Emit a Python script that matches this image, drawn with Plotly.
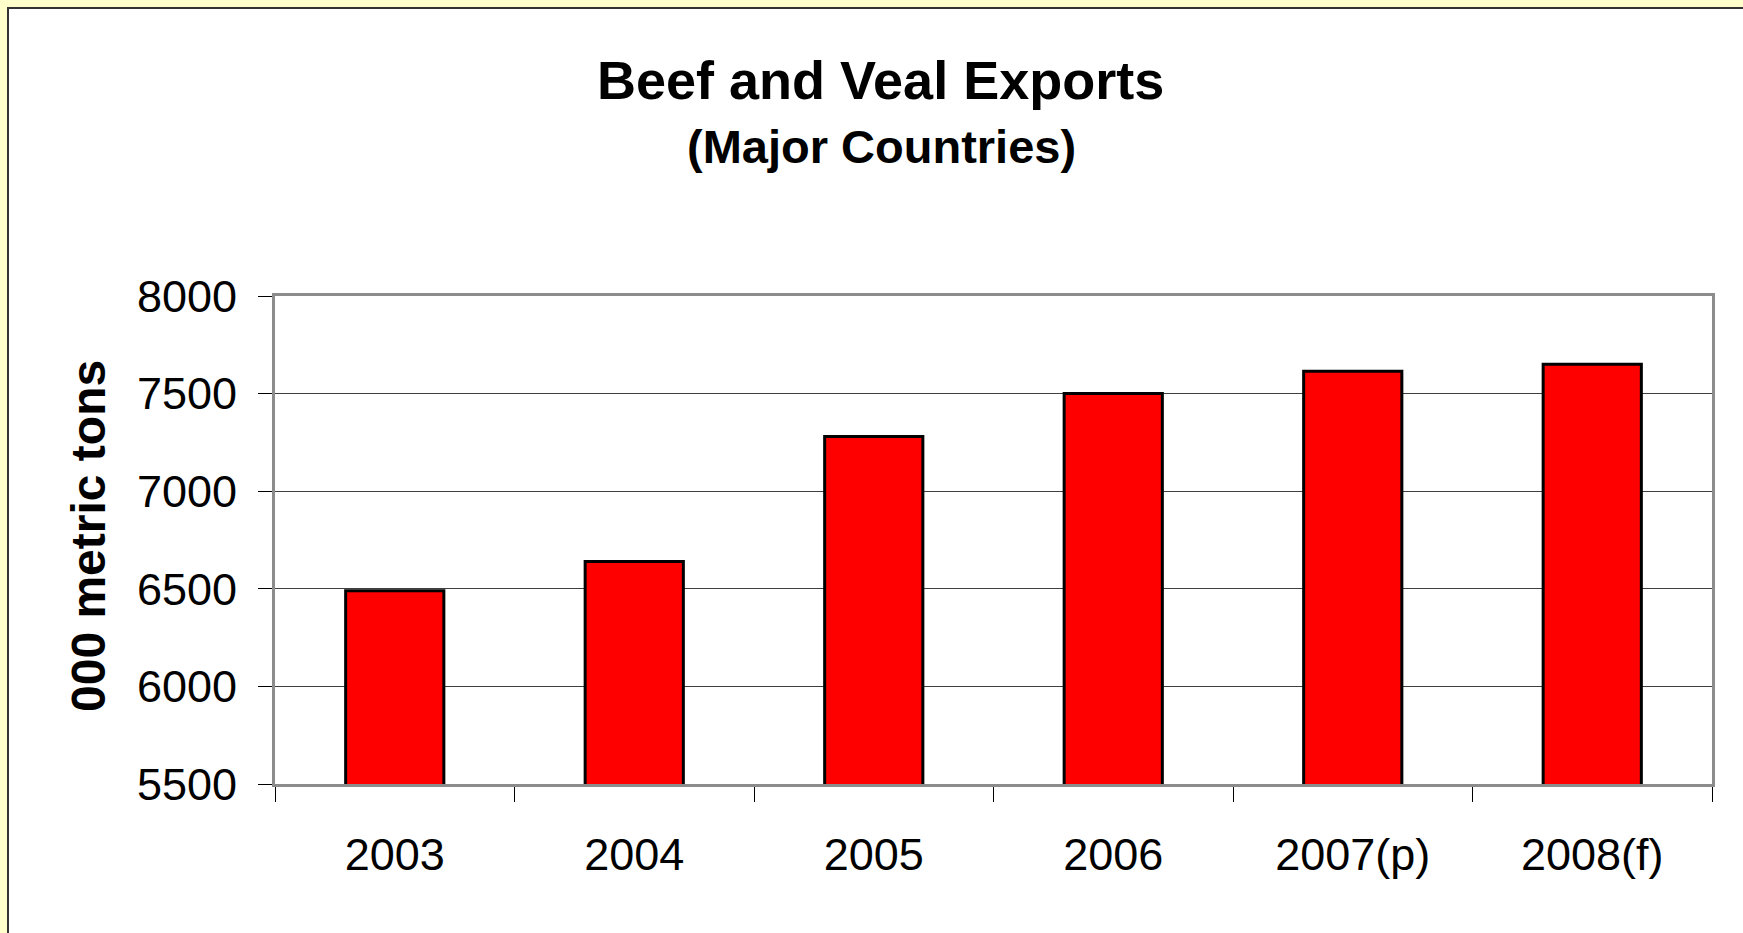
import plotly.graph_objects as go

# Beef and veal exports, major countries (thousand metric tons)
years = ["2003", "2004", "2005", "2006", "2007(p)", "2008(f)"]
exports = [6490, 6640, 7280, 7500, 7615, 7650]
y_ticks = [5500, 6000, 6500, 7000, 7500, 8000]

W, H = 1743, 933
L, R, T, B = 275, 31, 296, 149
plot_w = W - L - R
plot_h = H - T - B


def px_x(p):
    return (p - L) / plot_w


def px_y(p):
    return (H - B - p) / plot_h


FONT = "Liberation Sans, Arial, sans-serif"

fig = go.Figure(
    go.Bar(
        x=years,
        y=exports,
        marker=dict(color="#ff0000", line=dict(color="#000000", width=3)),
    )
)

fig.update_layout(
    width=W,
    height=H,
    margin=dict(l=L, r=R, t=T, b=B, pad=0),
    paper_bgcolor="#ffffcc",
    plot_bgcolor="#ffffff",
    bargap=0.59,
    showlegend=False,
    font=dict(family=FONT, color="#000000"),
    xaxis=dict(
        type="category",
        range=[-0.5, 5.5],
        tickson="boundaries",
        ticks="outside",
        ticklen=15,
        tickwidth=1,
        tickcolor="#000000",
        showline=True,
        linewidth=3,
        linecolor="#8c8c8c",
        mirror=True,
        showgrid=False,
        tickfont=dict(family=FONT, size=45, color="#000000"),
        ticklabelstandoff=29,
    ),
    yaxis=dict(
        range=[5500, 8000],
        tickvals=y_ticks,
        ticktext=[str(v) for v in y_ticks],
        ticks="outside",
        ticklen=14,
        tickwidth=1,
        tickcolor="#000000",
        showline=True,
        linewidth=3,
        linecolor="#8c8c8c",
        mirror=True,
        showgrid=True,
        gridcolor="#404040",
        gridwidth=1,
        zeroline=False,
        tickfont=dict(family=FONT, size=45, color="#000000"),
        ticklabelstandoff=12,
    ),
    shapes=[
        # white chart panel with a dark edge inside the yellow page
        dict(
            type="rect",
            xref="paper",
            yref="paper",
            x0=px_x(8),
            x1=px_x(W + 20),
            y0=px_y(H + 20),
            y1=px_y(8),
            fillcolor="#ffffff",
            line=dict(color="#333333", width=2),
            layer="below",
        )
    ],
    annotations=[
        dict(
            text="Beef and Veal Exports",
            xref="paper",
            yref="paper",
            x=px_x(880),
            y=px_y(80),
            xanchor="center",
            yanchor="middle",
            showarrow=False,
            font=dict(family=FONT, size=54, weight="bold", color="#000000"),
        ),
        dict(
            text="(Major Countries)",
            xref="paper",
            yref="paper",
            x=px_x(881),
            y=px_y(146),
            xanchor="center",
            yanchor="middle",
            showarrow=False,
            font=dict(family=FONT, size=47, weight="bold", color="#000000"),
        ),
        dict(
            text="000 metric tons",
            xref="paper",
            yref="paper",
            x=px_x(88),
            y=px_y(536),
            xanchor="center",
            yanchor="middle",
            textangle=-90,
            showarrow=False,
            font=dict(family=FONT, size=48, weight="bold", color="#000000"),
        ),
    ],
)

fig.write_html("out.html")
